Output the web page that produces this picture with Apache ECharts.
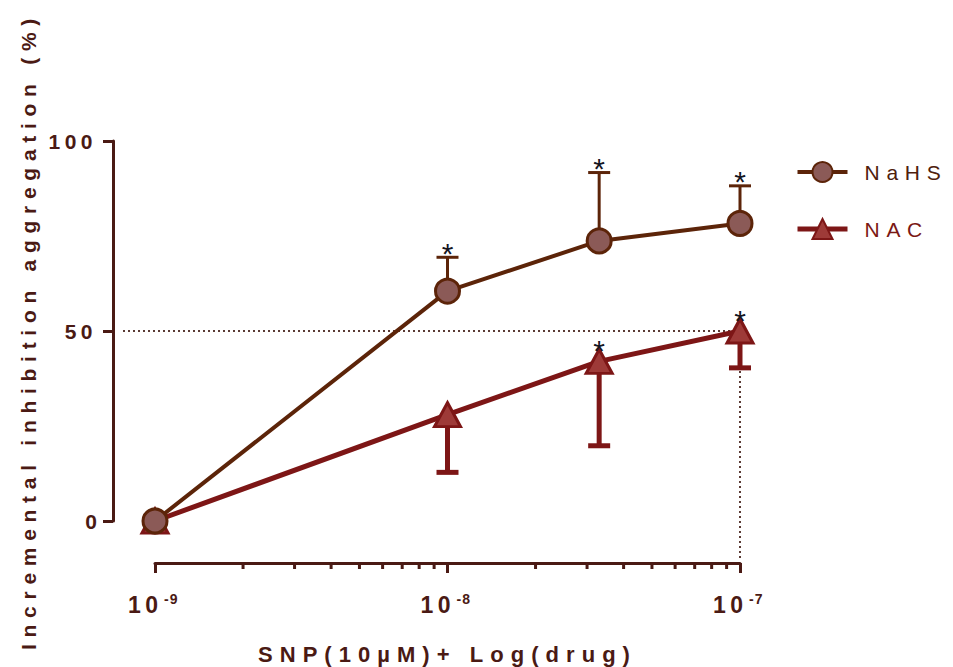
<!DOCTYPE html>
<html>
<head>
<meta charset="utf-8">
<script src="https://cdn.jsdelivr.net/npm/echarts@6/dist/echarts.min.js"></script>
<style>
  html, body { margin: 0; padding: 0; background: #ffffff; }
  #chart { width: 953px; height: 667px; }
</style>
</head>
<body>
<div id="chart"></div>
<script>
// ---- data ----
const doses = [1e-9, 1e-8, 3.3e-8, 1e-7];
const nahsMean = [0, 60.5, 73.7, 78.3];
const nahsUpper = [0, 69.4, 91.7, 88.2];
const nahsSig = [false, true, true, true];
const nacMean = [0, 28.0, 42.0, 50.0];
const nacLower = [0, 12.8, 19.8, 40.3];
const nacSig = [false, false, true, true];
const minorTickValues = [2e-9, 3e-9, 4e-9, 5e-9, 6e-9, 7e-9, 8e-9, 9e-9,
                         2e-8, 3e-8, 4e-8, 5e-8, 6e-8, 7e-8, 8e-8, 9e-8];
const halfEffect = 50;
const halfEffectDose = 1e-7;
const yAxisTitle = 'Incremental inhibition aggregation (%)';
const xAxisTitle = 'SNP(10µM)+ Log(drug)';

// ---- styles ----
const FONT = '"Liberation Sans", Arial, sans-serif';
const AXIS_COLOR = '#4a1a14';
const NAHS_LINE = '#5c2409';
const NAHS_FILL = '#8b5a57';
const NAC_LINE = '#7d1616';
const NAC_FILL = '#9e3a38';
const AXIS_OFFSET = 42;

const chart = echarts.init(document.getElementById('chart'), null, { renderer: 'svg' });

function errorBarSeries(name, mean, ends, color, width, z) {
  return {
    type: 'custom',
    name: name + '-err',
    z: z,
    silent: true,
    clip: false,
    data: doses.map((d, i) => [d, mean[i], ends[i]]),
    encode: { x: 0, y: [1, 2] },
    renderItem: function (params, api) {
      const x = api.value(0), m = api.value(1), e = api.value(2);
      if (m === e) return null;
      const p1 = api.coord([x, m]);
      const p2 = api.coord([x, e]);
      return {
        type: 'group',
        children: [
          { type: 'line', shape: { x1: p1[0], y1: p1[1], x2: p2[0], y2: p2[1] },
            style: { stroke: color, lineWidth: width } },
          { type: 'line', shape: { x1: p2[0] - 11, y1: p2[1], x2: p2[0] + 11, y2: p2[1] },
            style: { stroke: color, lineWidth: width } }
        ]
      };
    }
  };
}

function starSeries(name, yVals, sig, lift) {
  return {
    type: 'custom',
    name: name + '-sig',
    z: 10,
    silent: true,
    clip: false,
    data: doses.map((d, i) => [d, yVals[i], sig[i] ? 1 : 0]),
    encode: { x: 0, y: 1 },
    renderItem: function (params, api) {
      if (!api.value(2)) return null;
      const p = api.coord([api.value(0), api.value(1)]);
      return {
        type: 'text',
        style: {
          text: '*', x: p[0], y: p[1] - lift + 6,
          textAlign: 'center', textVerticalAlign: 'middle',
          font: 'normal 30px ' + FONT, fill: '#15151f'
        }
      };
    }
  };
}

const option = {
  backgroundColor: '#ffffff',
  animation: false,
  grid: { left: 155, right: 213, top: 141, bottom: 146, containLabel: false, outerBoundsMode: 'none' },
  legend: {
    orient: 'vertical',
    left: 790,
    top: 156,
    itemWidth: 50,
    itemHeight: 25,
    itemGap: 35,
    selectedMode: false,
    data: [
      { name: 'NaHS', textStyle: { color: '#4e200c' }, lineStyle: { width: 4, color: NAHS_LINE } },
      { name: 'NAC', textStyle: { color: '#7a1814' }, lineStyle: { width: 5, color: NAC_LINE } }
    ],
    textStyle: { fontFamily: FONT, fontSize: 21, padding: [0, 0, 0, 12] }
  },
  xAxis: {
    type: 'log',
    logBase: 10,
    min: 1e-9,
    max: 1e-7,
    offset: AXIS_OFFSET,
    name: xAxisTitle,
    nameLocation: 'middle',
    nameGap: 80,
    nameTextStyle: { fontFamily: FONT, fontSize: 22, fontWeight: 'bold', color: AXIS_COLOR },
    axisLine: { show: true, onZero: false, lineStyle: { color: AXIS_COLOR, width: 3 } },
    axisTick: { show: true, length: 10, lineStyle: { color: AXIS_COLOR, width: 3 } },
    splitLine: { show: false },
    minorTick: { show: false },
    axisLabel: {
      margin: 29,
      fontFamily: FONT,
      fontSize: 23,
      fontWeight: 'bold',
      color: AXIS_COLOR,
      formatter: function (v) {
        const e = Math.round(Math.log10(v));
        return '{b|10}{s|' + e + '}';
      },
      rich: {
        b: { fontFamily: FONT, fontSize: 23, fontWeight: 'bold', color: AXIS_COLOR, lineHeight: 26 },
        s: { fontFamily: FONT, fontSize: 14, fontWeight: 'bold', color: AXIS_COLOR, verticalAlign: 'top', padding: [0, 0, 0, 7] }
      }
    }
  },
  yAxis: {
    type: 'value',
    min: 0,
    max: 100,
    interval: 50,
    offset: AXIS_OFFSET,
    name: yAxisTitle,
    nameLocation: 'middle',
    nameRotate: 90,
    nameGap: 74,
    nameTextStyle: { fontFamily: FONT, fontSize: 21, fontWeight: 'bold', color: AXIS_COLOR },
    axisLine: { show: true, onZero: false, lineStyle: { color: AXIS_COLOR, width: 3 } },
    axisTick: { show: true, length: 10, lineStyle: { color: AXIS_COLOR, width: 3 } },
    splitLine: { show: false },
    axisLabel: { margin: 16, fontFamily: FONT, fontSize: 21, fontWeight: 'bold', color: AXIS_COLOR }
  },
  series: [
    {
      type: 'custom',
      name: 'guides',
      z: 1,
      silent: true,
      clip: false,
      data: [[halfEffectDose, halfEffect]],
      encode: { x: 0, y: 1 },
      renderItem: function (params, api) {
        const p = api.coord([api.value(0), api.value(1)]);
        const left = api.coord([doses[0], api.value(1)])[0] - AXIS_OFFSET + 10;
        const bottom = api.coord([api.value(0), 0])[1] + AXIS_OFFSET - 3;
        const st = { stroke: '#5a3a34', lineWidth: 2, lineDash: [2, 3] };
        return {
          type: 'group',
          children: [
            { type: 'line', shape: { x1: left, y1: p[1], x2: p[0], y2: p[1] }, style: st },
            { type: 'line', shape: { x1: p[0], y1: p[1], x2: p[0], y2: bottom }, style: st }
          ]
        };
      }
    },
    {
      type: 'custom',
      name: 'minorTicks',
      z: 1,
      silent: true,
      clip: false,
      data: minorTickValues.map(v => [v, 0]),
      encode: { x: 0, y: 1 },
      renderItem: function (params, api) {
        const p = api.coord([api.value(0), 0]);
        const y = p[1] + AXIS_OFFSET;
        return { type: 'line', shape: { x1: p[0], y1: y, x2: p[0], y2: y + 6 },
                 style: { stroke: AXIS_COLOR, lineWidth: 3 } };
      }
    },
    errorBarSeries('NAC', nacMean, nacLower, NAC_LINE, 5, 3),
    errorBarSeries('NaHS', nahsMean, nahsUpper, NAHS_LINE, 3, 3),
    {
      type: 'line',
      name: 'NAC',
      z: 4,
      data: doses.map((d, i) => [d, nacMean[i]]),
      symbol: 'triangle',
      symbolSize: [26, 24],
      showAllSymbol: true,
      lineStyle: { color: NAC_LINE, width: 5 },
      itemStyle: { color: NAC_FILL, borderColor: NAC_LINE, borderWidth: 3 },
      emphasis: { disabled: true }
    },
    {
      type: 'line',
      name: 'NaHS',
      z: 5,
      data: doses.map((d, i) => [d, nahsMean[i]]),
      symbol: 'circle',
      symbolSize: 24,
      showAllSymbol: true,
      lineStyle: { color: NAHS_LINE, width: 4 },
      itemStyle: { color: NAHS_FILL, borderColor: NAHS_LINE, borderWidth: 3 },
      emphasis: { disabled: true }
    },
    starSeries('NaHS', nahsUpper, nahsSig, 10),
    starSeries('NAC', nacMean, nacSig, 17)
  ]
};

chart.setOption(option);

function applySpacing() {
  document.querySelectorAll('#chart svg text').forEach(function (t) {
    const s = (t.textContent || '').trim();
    if (s.length < 2) return;
    const fs = parseFloat(getComputedStyle(t).fontSize) || 12;
    let sp;
    if (/[A-Za-z]/.test(s)) sp = fs * 0.32;
    else if (fs >= 18) sp = 4.5;
    else sp = 1;
    t.style.letterSpacing = sp + 'px';
  });
}
chart.on('finished', applySpacing);
applySpacing();
setTimeout(applySpacing, 50);
setTimeout(applySpacing, 300);
</script>
</body>
</html>
